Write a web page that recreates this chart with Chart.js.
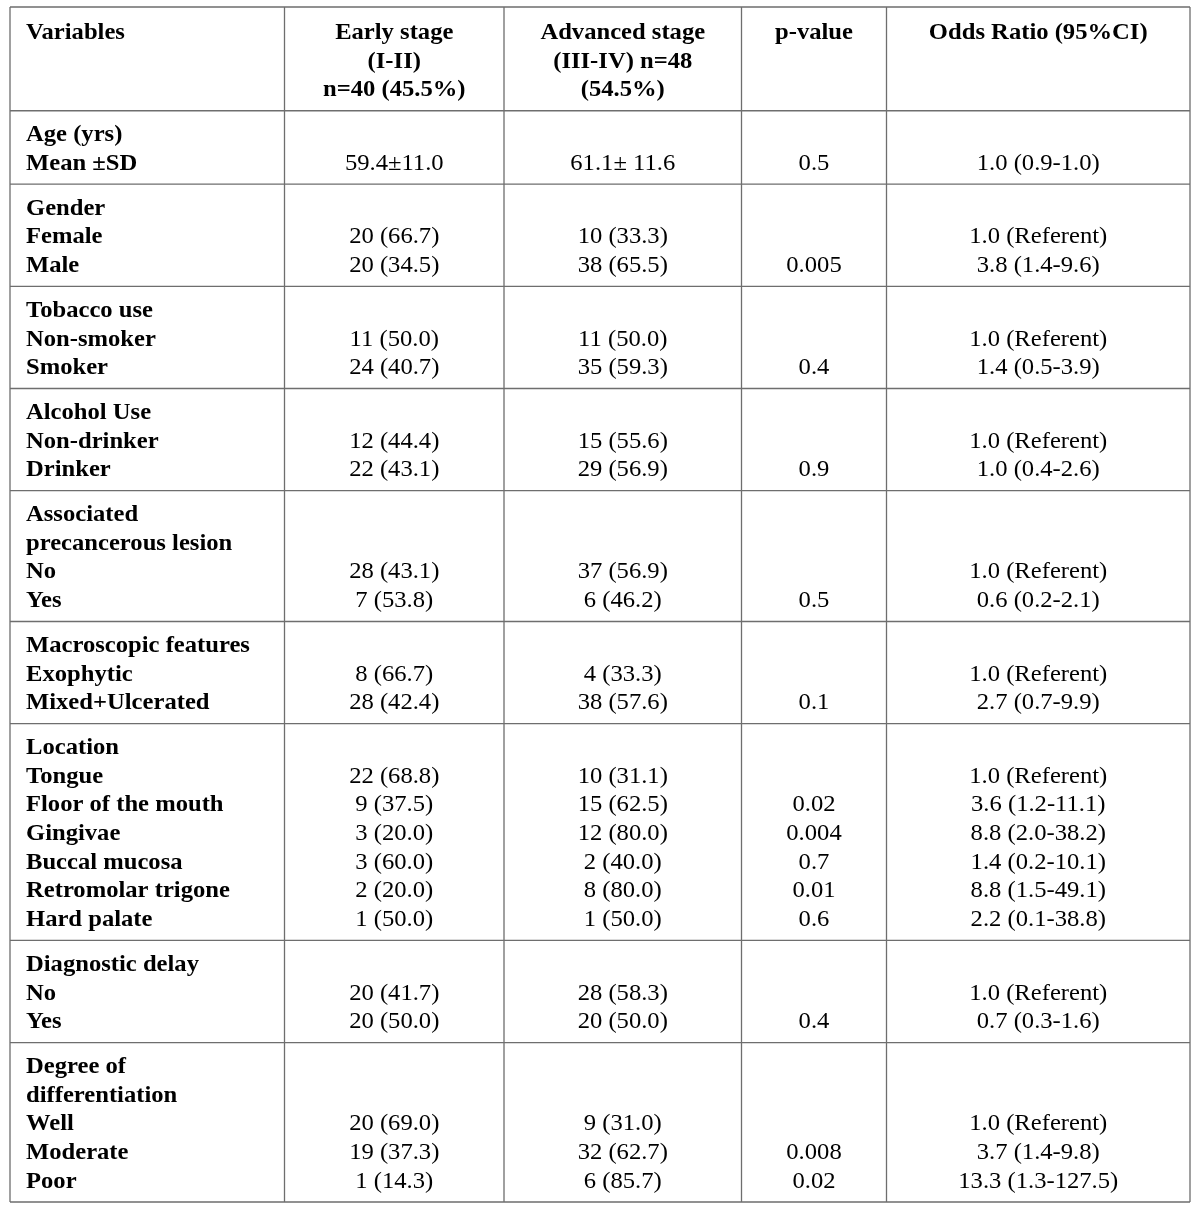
<!DOCTYPE html>
<html>
<head>
<meta charset="utf-8">
<script src="https://cdn.jsdelivr.net/npm/chart.js@4/dist/chart.umd.min.js"></script>
<style>
  body { margin: 0; background: #fff; }
</style>
</head>
<body>
<canvas id="table" width="1200" height="1211"></canvas>
<script>
// header text, one list per column
var headerVariables = ['Variables'];
var headerEarly = ['Early stage', '(I-II)', 'n=40 (45.5%)'];
var headerAdvanced = ['Advanced stage', '(III-IV) n=48', '(54.5%)'];
var headerP = ['p-value'];
var headerOR = ['Odds Ratio (95%CI)'];

// how many text lines each variable block has
var groupSizes = [2, 3, 3, 3, 4, 3, 7, 3, 5];

var rowLabels = [
    'Age (yrs)', 'Mean \u00b1SD',
    'Gender', 'Female', 'Male',
    'Tobacco use', 'Non-smoker', 'Smoker',
    'Alcohol Use', 'Non-drinker', 'Drinker',
    'Associated', 'precancerous lesion', 'No', 'Yes',
    'Macroscopic features', 'Exophytic', 'Mixed+Ulcerated',
    'Location', 'Tongue', 'Floor of the mouth', 'Gingivae', 'Buccal mucosa', 'Retromolar trigone', 'Hard palate',
    'Diagnostic delay', 'No', 'Yes',
    'Degree of', 'differentiation', 'Well', 'Moderate', 'Poor'
];

var earlyStage = [
    '', '59.4\u00b111.0',
    '', '20 (66.7)', '20 (34.5)',
    '', '11 (50.0)', '24 (40.7)',
    '', '12 (44.4)', '22 (43.1)',
    '', '', '28 (43.1)', '7 (53.8)',
    '', '8 (66.7)', '28 (42.4)',
    '', '22 (68.8)', '9 (37.5)', '3 (20.0)', '3 (60.0)', '2 (20.0)', '1 (50.0)',
    '', '20 (41.7)', '20 (50.0)',
    '', '', '20 (69.0)', '19 (37.3)', '1 (14.3)'
];

var advancedStage = [
    '', '61.1\u00b1 11.6',
    '', '10 (33.3)', '38 (65.5)',
    '', '11 (50.0)', '35 (59.3)',
    '', '15 (55.6)', '29 (56.9)',
    '', '', '37 (56.9)', '6 (46.2)',
    '', '4 (33.3)', '38 (57.6)',
    '', '10 (31.1)', '15 (62.5)', '12 (80.0)', '2 (40.0)', '8 (80.0)', '1 (50.0)',
    '', '28 (58.3)', '20 (50.0)',
    '', '', '9 (31.0)', '32 (62.7)', '6 (85.7)'
];

var pValues = [
    '', '0.5',
    '', '', '0.005',
    '', '', '0.4',
    '', '', '0.9',
    '', '', '', '0.5',
    '', '', '0.1',
    '', '', '0.02', '0.004', '0.7', '0.01', '0.6',
    '', '', '0.4',
    '', '', '', '0.008', '0.02'
];

var oddsRatios = [
    '', '1.0 (0.9-1.0)',
    '', '1.0 (Referent)', '3.8 (1.4-9.6)',
    '', '1.0 (Referent)', '1.4 (0.5-3.9)',
    '', '1.0 (Referent)', '1.0 (0.4-2.6)',
    '', '', '1.0 (Referent)', '0.6 (0.2-2.1)',
    '', '1.0 (Referent)', '2.7 (0.7-9.9)',
    '', '1.0 (Referent)', '3.6 (1.2-11.1)', '8.8 (2.0-38.2)', '1.4 (0.2-10.1)', '8.8 (1.5-49.1)', '2.2 (0.1-38.8)',
    '', '1.0 (Referent)', '0.7 (0.3-1.6)',
    '', '', '1.0 (Referent)', '3.7 (1.4-9.8)', '13.3 (1.3-127.5)'
];

// layout: column edges on the x scale, one unit per text line on the y scale
var colEdges = [0, 274.5, 494, 731.5, 876.5, 1180];
var labelInset = 16;
var groupGap = 0.565;
var sepOffset = 0.5;

function colCenter(i) {
    return (colEdges[i] + colEdges[i + 1]) / 2;
}

// y position of every body line, and where the separators go
var bodyY = [];
var separators = [2 + sepOffset];
var yy = 2 + 1 + groupGap;
groupSizes.forEach(function(n) {
    for (var k = 0; k < n; k++) {
        bodyY.push(yy);
        yy += 1;
    }
    separators.push(bodyY[bodyY.length - 1] + sepOffset);
    yy += groupGap;
});
var yMax = separators[separators.length - 1];
var yMin = -1.12;

function cells(x, header, body, bold, align) {
    var pts = [];
    header.forEach(function(t, i) {
        pts.push({ x: x, y: i, t: t, bold: true, align: align });
    });
    body.forEach(function(t, i) {
        if (t !== '') pts.push({ x: x, y: bodyY[i], t: t, bold: bold, align: align });
    });
    return pts;
}

var datasets = [
    { label: 'Variables', data: cells(labelInset, headerVariables, rowLabels, true, 'left') },
    { label: 'Early stage', data: cells(colCenter(1), headerEarly, earlyStage, false, 'center') },
    { label: 'Advanced stage', data: cells(colCenter(2), headerAdvanced, advancedStage, false, 'center') },
    { label: 'p-value', data: cells(colCenter(3), headerP, pValues, false, 'center') },
    { label: 'Odds Ratio', data: cells(colCenter(4), headerOR, oddsRatios, false, 'center') }
];
datasets.forEach(function(d) { d.pointRadius = 0; d.pointHoverRadius = 0; });

var tablePlugin = {
    id: 'tablePlugin',
    afterDatasetsDraw: function(chart) {
        var ctx = chart.ctx;
        var xs = chart.scales.x, ys = chart.scales.y;
        var left = xs.getPixelForValue(colEdges[0]);
        var right = xs.getPixelForValue(colEdges[colEdges.length - 1]);
        var top = ys.getPixelForValue(yMin);
        var bottom = ys.getPixelForValue(yMax);

        ctx.save();
        ctx.strokeStyle = '#6e6e6e';
        ctx.lineWidth = 1.3;
        ctx.beginPath();
        ctx.moveTo(left, top);
        ctx.lineTo(right, top);
        separators.forEach(function(s) {
            var py = ys.getPixelForValue(s);
            ctx.moveTo(left, py);
            ctx.lineTo(right, py);
        });
        colEdges.forEach(function(e) {
            var px = xs.getPixelForValue(e);
            ctx.moveTo(px, top);
            ctx.lineTo(px, bottom);
        });
        ctx.stroke();

        ctx.fillStyle = '#000';
        ctx.textBaseline = 'alphabetic';
        chart.data.datasets.forEach(function(ds, di) {
            var meta = chart.getDatasetMeta(di);
            meta.data.forEach(function(pt, i) {
                var cell = ds.data[i];
                ctx.save();
                ctx.font = (cell.bold ? 'bold ' : '') + '23px "Liberation Serif", "Times New Roman", serif';
                ctx.textAlign = cell.align;
                ctx.translate(pt.x, pt.y);
                ctx.scale(1.07, 1);
                ctx.fillText(cell.t, 0, 0);
                ctx.restore();
            });
        });
        ctx.restore();
    }
};

new Chart(document.getElementById('table').getContext('2d'), {
    type: 'scatter',
    data: { datasets: datasets },
    options: {
        responsive: false,
        animation: false,
        events: [],
        layout: { padding: { left: 10, right: 10, top: 7, bottom: 9 } },
        plugins: { legend: { display: false }, tooltip: { enabled: false } },
        scales: {
            x: { type: 'linear', display: false, min: colEdges[0], max: colEdges[colEdges.length - 1] },
            y: { type: 'linear', display: false, reverse: true, min: yMin, max: yMax }
        }
    },
    plugins: [tablePlugin]
});
</script>
</body>
</html>
